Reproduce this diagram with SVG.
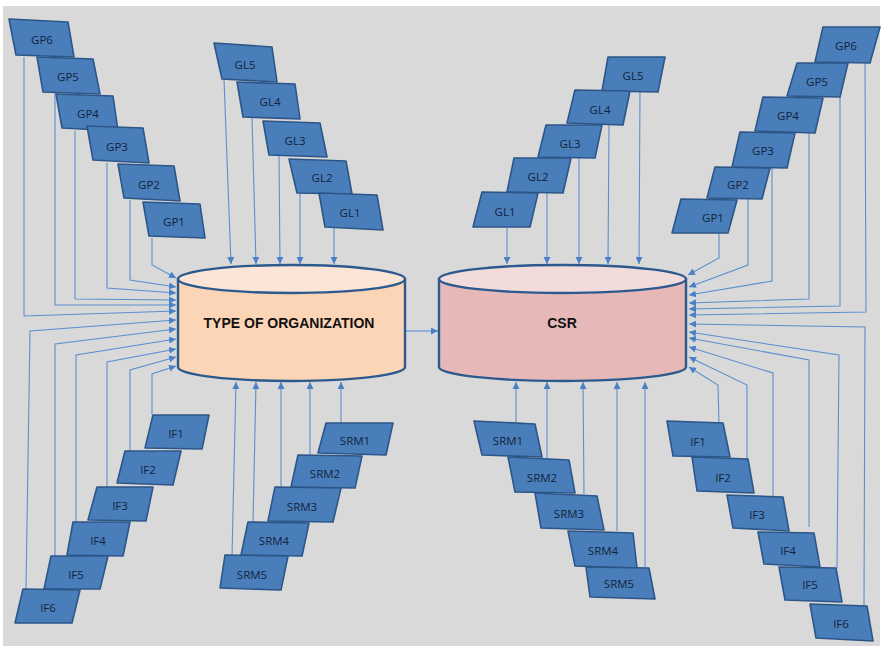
<svg xmlns="http://www.w3.org/2000/svg" width="883" height="649" viewBox="0 0 883 649">
<defs>
<style>
.bx{fill:#4a7ebb;stroke:#2c5688;stroke-width:1.6;stroke-linejoin:round}
.lb{font-family:"Open Sans","Liberation Sans",sans-serif;font-size:11.5px;fill:#12233a;text-anchor:middle;dominant-baseline:central}
.ln{fill:none;stroke:#5b8fd0;stroke-width:1.1;marker-end:url(#ah)}
.cyl{stroke:#2d5a8e;stroke-width:2.4}
.ct{font-family:"Liberation Sans",Arial,sans-serif;font-size:14px;font-weight:bold;fill:#111;text-anchor:middle;dominant-baseline:central}
</style>
<marker id="ah" viewBox="0 0 10 10" refX="10" refY="5" markerWidth="7" markerHeight="7" markerUnits="userSpaceOnUse" orient="auto">
<path d="M0,0 L10,5 L0,10 z" fill="#4a80c8"/>
</marker>
</defs>
<rect x="0" y="0" width="883" height="649" fill="#ffffff"/>
<rect x="3" y="6" width="877" height="640" fill="#d9d9d9"/>

<g id="connectors">
<polyline class="ln" points="152,238 152,265 176,278"/>
<polyline class="ln" points="130,200 130,280 176,287"/>
<polyline class="ln" points="107,163 107,288 176,293"/>
<polyline class="ln" points="75,131 75,299 176,300"/>
<polyline class="ln" points="55,92 55,305 176,305"/>
<polyline class="ln" points="24,57 24,316 176,311"/>
<polyline class="ln" points="26,589 30,331 176,320"/>
<polyline class="ln" points="55,556 55,344 176,329"/>
<polyline class="ln" points="76,522 76,355 176,339"/>
<polyline class="ln" points="107,487 107,362 176,349"/>
<polyline class="ln" points="130,451 130,370 176,357"/>
<polyline class="ln" points="152,415 152,374 176,366"/>
<polyline class="ln" points="224,79 231,264"/>
<polyline class="ln" points="252,118 256,264"/>
<polyline class="ln" points="279,156 280,264"/>
<polyline class="ln" points="300,193 300,264"/>
<polyline class="ln" points="334,228 334,264"/>
<polyline class="ln" points="232,556 236,382"/>
<polyline class="ln" points="253,523 256,382"/>
<polyline class="ln" points="281,488 281,382"/>
<polyline class="ln" points="310,456 310,382"/>
<polyline class="ln" points="341,423 341,382"/>
<polyline class="ln" points="406,331 438,331"/>
<polyline class="ln" points="507,228 507,264"/>
<polyline class="ln" points="547,193 547,264"/>
<polyline class="ln" points="579,158 579,264"/>
<polyline class="ln" points="609,125 608,264"/>
<polyline class="ln" points="640,92 639,264"/>
<polyline class="ln" points="719,233 719,258 688,275"/>
<polyline class="ln" points="748,199 748,265 689,287"/>
<polyline class="ln" points="772,168 772,281 689,295"/>
<polyline class="ln" points="809,133 809,299 689,303"/>
<polyline class="ln" points="840,97 840,306 689,309"/>
<polyline class="ln" points="865,63 866,312 689,315"/>
<polyline class="ln" points="864,605 865,327 689,324"/>
<polyline class="ln" points="837,568 839,355 689,332"/>
<polyline class="ln" points="809,527 809,360 689,338"/>
<polyline class="ln" points="773,497 773,373 689,347"/>
<polyline class="ln" points="747,459 747,385 689,357"/>
<polyline class="ln" points="719,423 718,385 689,367"/>
<polyline class="ln" points="516,422 516,382"/>
<polyline class="ln" points="547,458 547,382"/>
<polyline class="ln" points="584,494 583,382"/>
<polyline class="ln" points="617,531 617,382"/>
<polyline class="ln" points="645,567 645,382"/>
</g>

<g id="type-of-organization">
<path class="cyl" fill="#fbd5b5" d="M178,279 L178,367 A113.5,14 0 0 0 405,367 L405,279 Z"/>
<ellipse class="cyl" fill="#fce4d6" cx="291.5" cy="279" rx="113.5" ry="14"/>
<text class="ct" x="289" y="323">TYPE OF ORGANIZATION</text>
</g>

<g id="csr">
<path class="cyl" fill="#e6b9b8" d="M439,279 L439,367 A123.5,14 0 0 0 686,367 L686,279 Z"/>
<ellipse class="cyl" fill="#f2dcdb" cx="562.5" cy="279" rx="123.5" ry="14"/>
<text class="ct" x="562" y="323">CSR</text>
</g>

<g id="gp6-l"><polygon class="bx" points="9,19 68,22 74,57 16,55"/><text class="lb" x="42" y="39">GP6</text></g>
<g id="gp5-l"><polygon class="bx" points="37,57 93,59 100,94 43,92"/><text class="lb" x="68" y="76">GP5</text></g>
<g id="gp4-l"><polygon class="bx" points="56,94 113,96 118,131 62,128"/><text class="lb" x="88" y="113">GP4</text></g>
<g id="gp3-l"><polygon class="bx" points="87,126 143,128 149,163 93,160"/><text class="lb" x="117" y="146">GP3</text></g>
<g id="gp2-l"><polygon class="bx" points="118,164 174,166 180,201 124,198"/><text class="lb" x="149" y="184">GP2</text></g>
<g id="gp1-l"><polygon class="bx" points="143,202 200,204 205,238 149,236"/><text class="lb" x="174" y="221">GP1</text></g>

<g id="gl5-l"><polygon class="bx" points="214,43 272,47 277,82 222,79"/><text class="lb" x="245" y="64">GL5</text></g>
<g id="gl4-l"><polygon class="bx" points="237,82 295,84 300,119 243,117"/><text class="lb" x="270" y="101">GL4</text></g>
<g id="gl3-l"><polygon class="bx" points="263,121 320,123 327,157 269,155"/><text class="lb" x="295" y="140">GL3</text></g>
<g id="gl2-l"><polygon class="bx" points="289,159 346,161 352,194 297,193"/><text class="lb" x="322" y="177">GL2</text></g>
<g id="gl1-l"><polygon class="bx" points="319,193 377,195 383,230 325,227"/><text class="lb" x="350" y="212">GL1</text></g>

<g id="if1-l"><polygon class="bx" points="153,415 209,415 202,449 145,448"/><text class="lb" x="176" y="433">IF1</text></g>
<g id="if2-l"><polygon class="bx" points="125,451 181,451 173,485 117,483"/><text class="lb" x="148" y="469">IF2</text></g>
<g id="if3-l"><polygon class="bx" points="97,487 153,487 146,521 88,520"/><text class="lb" x="120" y="505">IF3</text></g>
<g id="if4-l"><polygon class="bx" points="73,522 130,522 123,556 67,555"/><text class="lb" x="98" y="540">IF4</text></g>
<g id="if5-l"><polygon class="bx" points="51,556 108,556 100,589 44,589"/><text class="lb" x="76" y="574">IF5</text></g>
<g id="if6-l"><polygon class="bx" points="23,589 80,590 72,623 15,623"/><text class="lb" x="48" y="607">IF6</text></g>

<g id="srm1-l"><polygon class="bx" points="326,423 393,423 386,455 318,453"/><text class="lb" x="355" y="440">SRM1</text></g>
<g id="srm2-l"><polygon class="bx" points="298,455 362,456 355,488 291,487"/><text class="lb" x="325" y="473">SRM2</text></g>
<g id="srm3-l"><polygon class="bx" points="275,487 341,488 333,522 268,521"/><text class="lb" x="302" y="506">SRM3</text></g>
<g id="srm4-l"><polygon class="bx" points="248,522 309,523 302,556 241,555"/><text class="lb" x="274" y="540">SRM4</text></g>
<g id="srm5-l"><polygon class="bx" points="225,555 288,556 281,590 220,588"/><text class="lb" x="252" y="574">SRM5</text></g>

<g id="gl5-r"><polygon class="bx" points="608,57 665,57 658,92 602,91"/><text class="lb" x="633" y="75">GL5</text></g>
<g id="gl4-r"><polygon class="bx" points="575,90 630,91 623,125 567,123"/><text class="lb" x="600" y="109">GL4</text></g>
<g id="gl3-r"><polygon class="bx" points="546,125 602,125 595,158 538,157"/><text class="lb" x="570" y="143">GL3</text></g>
<g id="gl2-r"><polygon class="bx" points="514,158 571,158 563,193 507,192"/><text class="lb" x="538" y="176">GL2</text></g>
<g id="gl1-r"><polygon class="bx" points="482,192 538,193 530,227 473,227"/><text class="lb" x="505" y="211">GL1</text></g>

<g id="gp6-r"><polygon class="bx" points="823,27 880,27 870,63 815,62"/><text class="lb" x="846" y="45">GP6</text></g>
<g id="gp5-r"><polygon class="bx" points="797,63 848,63 840,97 787,96"/><text class="lb" x="817" y="81">GP5</text></g>
<g id="gp4-r"><polygon class="bx" points="763,97 823,98 815,133 755,131"/><text class="lb" x="788" y="115">GP4</text></g>
<g id="gp3-r"><polygon class="bx" points="740,132 795,133 787,168 732,167"/><text class="lb" x="763" y="150">GP3</text></g>
<g id="gp2-r"><polygon class="bx" points="715,167 770,168 762,199 707,198"/><text class="lb" x="738" y="184">GP2</text></g>
<g id="gp1-r"><polygon class="bx" points="681,199 737,200 728,233 672,233"/><text class="lb" x="713" y="217">GP1</text></g>

<g id="if1-r"><polygon class="bx" points="667,421 723,423 730,457 673,456"/><text class="lb" x="698" y="441">IF1</text></g>
<g id="if2-r"><polygon class="bx" points="692,457 748,459 754,493 697,491"/><text class="lb" x="723" y="477">IF2</text></g>
<g id="if3-r"><polygon class="bx" points="727,495 783,497 789,531 733,528"/><text class="lb" x="757" y="514">IF3</text></g>
<g id="if4-r"><polygon class="bx" points="758,532 814,533 820,567 764,564"/><text class="lb" x="788" y="550">IF4</text></g>
<g id="if5-r"><polygon class="bx" points="779,567 836,568 842,602 785,600"/><text class="lb" x="810" y="584">IF5</text></g>
<g id="if6-r"><polygon class="bx" points="810,604 867,606 873,641 816,638"/><text class="lb" x="841" y="623">IF6</text></g>

<g id="srm1-r"><polygon class="bx" points="474,421 535,424 542,457 482,455"/><text class="lb" x="508" y="440">SRM1</text></g>
<g id="srm2-r"><polygon class="bx" points="508,457 569,460 575,493 515,492"/><text class="lb" x="542" y="477">SRM2</text></g>
<g id="srm3-r"><polygon class="bx" points="535,493 597,496 604,530 541,528"/><text class="lb" x="569" y="513">SRM3</text></g>
<g id="srm4-r"><polygon class="bx" points="568,531 633,533 637,568 575,566"/><text class="lb" x="603" y="550">SRM4</text></g>
<g id="srm5-r"><polygon class="bx" points="586,567 649,568 655,599 590,597"/><text class="lb" x="619" y="583">SRM5</text></g>
</svg>
